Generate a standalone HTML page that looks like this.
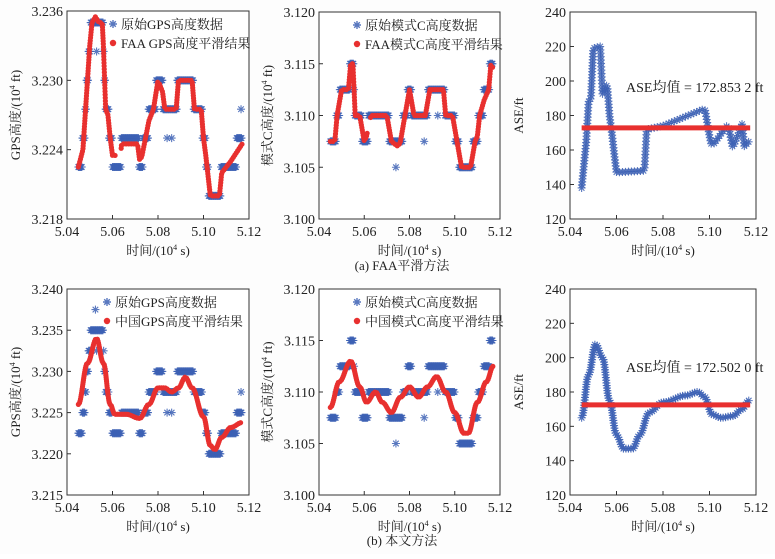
<!DOCTYPE html><html><head><meta charset="utf-8"><style>
html,body{margin:0;padding:0;background:#fff}
svg text{font-family:"Liberation Serif","Noto Serif CJK SC",serif;fill:#222}
</style></head><body>
<svg id="s" width="775" height="554" xmlns="http://www.w3.org/2000/svg">
<rect width="775" height="554" fill="#fdfdfd"/>
<text x="402" y="270" font-size="13" text-anchor="middle">(a) FAA平滑方法</text>
<text x="402" y="545" font-size="13" text-anchor="middle">(b) 本文方法</text>
</svg>
<script>
var S=document.getElementById('s'),NS='http://www.w3.org/2000/svg';
function el(t,a,txt){var e=document.createElementNS(NS,t);for(var k in a)e.setAttribute(k,a[k]);if(txt!=null)e.textContent=txt;S.appendChild(e);return e;}
function interp(pts,x){for(var i=0;i<pts.length-1;i++){if(x>=pts[i][0]&&x<=pts[i+1][0]){var t=(x-pts[i][0])/(pts[i+1][0]-pts[i][0]);return pts[i][1]+t*(pts[i+1][1]-pts[i][1]);}}return null;}
function smooth(pts,x){for(var i=0;i<pts.length-1;i++){if(x>=pts[i][0]&&x<=pts[i+1][0]){var t=(x-pts[i][0])/(pts[i+1][0]-pts[i][0]);t=(1-Math.cos(t*Math.PI))/2;return pts[i][1]+t*(pts[i+1][1]-pts[i][1]);}}return null;}
function star(x,y,s,w){el('path',{d:'M'+(x-s)+' '+y+'h'+(2*s)+'M'+x+' '+(y-s)+'v'+(2*s)+'M'+(x-s*.7)+' '+(y-s*.7)+'l'+(1.4*s)+' '+(1.4*s)+'M'+(x-s*.7)+' '+(y+s*.7)+'l'+(1.4*s)+' '+(-1.4*s),stroke:'#3c60b4','stroke-width':w,fill:'none','stroke-opacity':0.85});}
function panel(o){
 var L=o.L,R=o.R,T=o.T,B=o.B;
 var X=function(v){return L+(v-5.04)/0.08*(R-L)},Y=function(v){return B-(v-o.y0)/(o.y1-o.y0)*(B-T)};
 function arc(spec){
  var r=[],last=null,x0=spec.pts[0][0],x1=spec.pts[spec.pts.length-1][0];
  if(spec.q){ // uniform in x, quantized
   for(var x=x0;x<=x1+1e-9;x+=spec.dx){var y=spec.f(spec.pts,x);if(y==null)continue;y=Math.round(y/spec.q)*spec.q;r.push([X(x),Y(y)]);}
   return r;}
  for(var x=x0;x<=x1+1e-9;x+=0.00001){var g=false;(spec.gaps||[]).forEach(function(q){if(x>q[0]&&x<q[1])g=true});if(g){last=null;continue;}
   var y=spec.f(spec.pts,x);if(y==null)continue;
   var px=X(x),py=Y(y);if(!last||Math.hypot(px-last[0],py-last[1])>=spec.d){r.push([px,py]);last=[px,py];}}
  return r;}
 el('rect',{x:L,y:T,width:R-L,height:B-T,fill:'#fff',stroke:'#333','stroke-width':1});
 for(var i=0;i<=4;i++){var xv=5.04+i*0.02,px=X(xv);
  el('line',{x1:px,y1:B,x2:px,y2:B-4,stroke:'#333'});
  el('text',{x:px,y:B+17,'font-size':14,'text-anchor':'middle'},xv.toFixed(2));}
 for(var i=0;i<o.yt.length;i++){var yv=o.yt[i],py=Y(yv);
  el('line',{x1:L,y1:py,x2:L+4,y2:py,stroke:'#333'});
  el('text',{x:L-4,y:py+5,'font-size':14,'text-anchor':'end'},o.yf(yv));}
 var t=el('text',{x:(L+R)/2,y:B+36,'font-size':13,'text-anchor':'middle'},'');
 t.innerHTML='时间/(10<tspan font-size="8" dy="-5">4</tspan><tspan dy="5"> s)</tspan>';
 var a=el('text',{transform:'translate('+(L-47)+','+((T+B)/2)+') rotate(-90)','font-size':13,'text-anchor':'middle'},'');
 a.innerHTML=o.ylab;
 arc(o.blue).forEach(function(p){star(p[0],p[1],4,1.1);});
 (o.extra||[]).forEach(function(p){star(X(p[0]),Y(p[1]),4,1.1);});
 if(o.red) arc(o.red).forEach(function(p){el('circle',{cx:p[0],cy:p[1],r:2.6,fill:'#e8302f'});});
 if(o.hline!=null) el('line',{x1:X(5.045),x2:X(5.1175),y1:Y(o.hline),y2:Y(o.hline),stroke:'#e8302f','stroke-width':5});
 if(o.leg){var lx=L+o.leg[2],ly=T+13;
  star(lx,ly,4,1.4);
  el('text',{x:lx+8,y:ly+5,'font-size':13},o.leg[0]);
  el('circle',{cx:lx,cy:ly+19,r:3.2,fill:'#e8302f'});
  el('text',{x:lx+8,y:ly+24,'font-size':13},o.leg[1]);}
 if(o.note) el('text',{x:o.note[0],y:o.note[1],'font-size':14},o.note[2]);
}
var gpsF=[[5.045,3.2225],[5.047,3.224],[5.049,3.230],[5.050,3.233],[5.051,3.235],[5.0525,3.2355],[5.054,3.235],[5.0555,3.235],[5.056,3.233],[5.057,3.2275],[5.058,3.227],[5.059,3.225],[5.060,3.2235],[5.062,3.2235],[5.0635,3.2235],[5.064,3.2245],[5.071,3.2245],[5.072,3.223],[5.073,3.2235],[5.074,3.2245],[5.076,3.2265],[5.078,3.2275],[5.080,3.230],[5.081,3.2295],[5.082,3.229],[5.083,3.2275],[5.088,3.2275],[5.089,3.230],[5.095,3.230],[5.096,3.2275],[5.099,3.2275],[5.100,3.225],[5.101,3.2235],[5.103,3.220],[5.107,3.220],[5.108,3.222],[5.112,3.223],[5.117,3.2245]];
var gpsBlue={pts:gpsF,f:interp,q:0.0025,dx:0.0003};
var gpsX=[[5.084,3.225],[5.086,3.225],[5.1165,3.2275],[5.053,3.2325]];
var mcF=[[5.045,3.1075],[5.047,3.1075],[5.048,3.110],[5.050,3.1125],[5.053,3.1125],[5.054,3.115],[5.055,3.115],[5.056,3.110],[5.058,3.110],[5.060,3.1075],[5.061,3.108],[5.063,3.110],[5.070,3.110],[5.072,3.1075],[5.075,3.107],[5.076,3.1075],[5.078,3.110],[5.080,3.1125],[5.082,3.110],[5.087,3.110],[5.089,3.1125],[5.095,3.1125],[5.096,3.110],[5.099,3.110],[5.101,3.1075],[5.103,3.105],[5.107,3.105],[5.109,3.1075],[5.110,3.108],[5.111,3.110],[5.113,3.1115],[5.115,3.1125],[5.116,3.115],[5.117,3.1145]];
var mcBlue={pts:mcF,f:interp,q:0.0025,dx:0.0003};
var mcX=[[5.074,3.105],[5.0865,3.1075],[5.0925,3.110]];
var aseF=[[5.045,138],[5.047,165],[5.048,188],[5.049,190],[5.050,219],[5.053,220],[5.054,192],[5.056,198],[5.057,180],[5.058,170],[5.059,158],[5.060,147],[5.072,148],[5.073,172],[5.080,174],[5.098,184],[5.100,168],[5.101,162],[5.108,175],[5.110,161],[5.114,175],[5.115,162],[5.117,165]];
var gl='GPS高度/(10<tspan font-size="8" dy="-5">4</tspan><tspan dy="5"> ft)</tspan>';
var ml='模式C高度/(10<tspan font-size="8" dy="-5">4</tspan><tspan dy="5"> ft)</tspan>';
panel({L:67,R:249,T:11,B:219,y0:3.218,y1:3.236,yt:[3.218,3.224,3.230,3.236],yf:function(v){return v.toFixed(3)},
 ylab:gl,blue:gpsBlue,extra:gpsX,red:{pts:gpsF,f:interp,d:2.6,gaps:[[5.0622,5.0638]]},leg:['原始GPS高度数据','FAA GPS高度平滑结果',46]});
panel({L:319,R:500,T:12,B:219,y0:3.100,y1:3.120,yt:[3.100,3.105,3.110,3.115,3.120],yf:function(v){return v.toFixed(3)},
 ylab:ml,blue:mcBlue,extra:mcX,red:{pts:mcF,f:interp,d:2.6,gaps:[[5.0615,5.0628]]},leg:['原始模式C高度数据','FAA模式C高度平滑结果',38]});
panel({L:570,R:756,T:12,B:219,y0:120,y1:240,yt:[120,140,160,180,200,220,240],yf:function(v){return v},
 ylab:'ASE/ft',blue:{pts:aseF,f:interp,d:3},hline:172.85,note:[626,92,'ASE均值 = 172.853 2 ft']});

var gps2=[[5.045,3.226],[5.049,3.231],[5.053,3.234],[5.056,3.231],[5.059,3.226],[5.061,3.2248],[5.066,3.2248],[5.072,3.2243],[5.076,3.226],[5.080,3.228],[5.083,3.228],[5.086,3.2275],[5.089,3.228],[5.092,3.2293],[5.095,3.228],[5.100,3.2245],[5.103,3.221],[5.105,3.2205],[5.108,3.222],[5.112,3.2232],[5.117,3.2238]];
var mc2=[[5.045,3.1085],[5.049,3.111],[5.054,3.113],[5.058,3.1105],[5.061,3.109],[5.065,3.110],[5.068,3.109],[5.072,3.108],[5.076,3.1095],[5.080,3.1105],[5.084,3.1095],[5.088,3.1105],[5.092,3.1115],[5.096,3.110],[5.100,3.108],[5.104,3.106],[5.106,3.106],[5.110,3.109],[5.114,3.111],[5.117,3.1125]];
var ase2=[[5.045,165],[5.048,190],[5.051,208],[5.054,200],[5.057,175],[5.060,155],[5.063,147],[5.067,147],[5.070,155],[5.074,168],[5.080,174],[5.090,178],[5.095,180],[5.098,177],[5.101,167],[5.105,165],[5.110,166],[5.114,170],[5.117,175]];
panel({L:67,R:249,T:289,B:495,y0:3.215,y1:3.240,yt:[3.215,3.220,3.225,3.230,3.235,3.240],yf:function(v){return v.toFixed(3)},
 ylab:gl,blue:gpsBlue,extra:gpsX.concat([[5.0525,3.2375]]),red:{pts:gps2,f:smooth,d:2},leg:['原始GPS高度数据','中国GPS高度平滑结果',40]});
panel({L:319,R:500,T:289,B:495,y0:3.100,y1:3.120,yt:[3.100,3.105,3.110,3.115,3.120],yf:function(v){return v.toFixed(3)},
 ylab:ml,blue:mcBlue,extra:mcX,red:{pts:mc2,f:smooth,d:2},leg:['原始模式C高度数据','中国模式C高度平滑结果',38]});
panel({L:570,R:756,T:289,B:495,y0:120,y1:240,yt:[120,140,160,180,200,220,240],yf:function(v){return v},
 ylab:'ASE/ft',blue:{pts:ase2,f:smooth,d:2.5},hline:172.5,note:[626,372,'ASE均值 = 172.502 0 ft']});
</script>
</body></html>
